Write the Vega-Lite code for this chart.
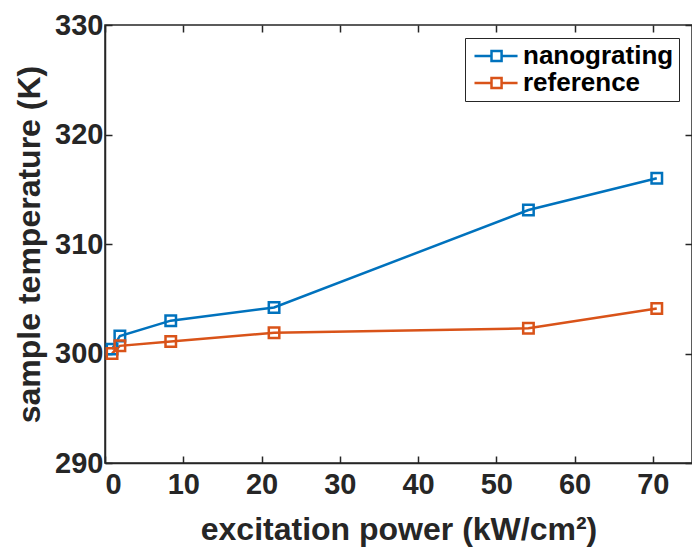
{
  "$schema": "https://vega.github.io/schema/vega-lite/v6.json",
  "width": 587,
  "height": 438,
  "autosize": {"type": "none"},
  "padding": {"left": 105, "top": 25, "right": 0, "bottom": 87},
  "background": "white",
  "config": {
    "font": "Liberation Sans",
    "view": {"stroke": "#262626", "strokeWidth": 1.5},
    "axis": {
      "grid": false,
      "domainColor": "#262626",
      "domainWidth": 1.5,
      "tickColor": "#262626",
      "tickWidth": 1.5,
      "tickSize": -7,
      "labelFont": "Liberation Sans",
      "labelFontWeight": "bold",
      "labelFontSize": 29,
      "labelColor": "#262626",
      "titleFont": "Liberation Sans",
      "titleFontWeight": "bold",
      "titleFontSize": 32,
      "titleColor": "#262626"
    }
  },
  "data": {
    "values": [
      {"power": 0.9, "temp": 300.4, "sample": "nanograting"},
      {"power": 1.9, "temp": 301.6, "sample": "nanograting"},
      {"power": 8.4, "temp": 303.0, "sample": "nanograting"},
      {"power": 21.6, "temp": 304.2, "sample": "nanograting"},
      {"power": 54.1, "temp": 313.1, "sample": "nanograting"},
      {"power": 70.5, "temp": 316.0, "sample": "nanograting"},
      {"power": 0.9, "temp": 300.0, "sample": "reference"},
      {"power": 1.9, "temp": 300.7, "sample": "reference"},
      {"power": 8.4, "temp": 301.1, "sample": "reference"},
      {"power": 21.6, "temp": 301.9, "sample": "reference"},
      {"power": 54.1, "temp": 302.3, "sample": "reference"},
      {"power": 70.5, "temp": 304.1, "sample": "reference"}
    ]
  },
  "encoding": {
    "x": {"field": "power", "type": "quantitative", "scale": {"domain": [0, 75], "nice": false, "zero": false}},
    "y": {"field": "temp", "type": "quantitative", "scale": {"domain": [290, 330], "nice": false, "zero": false}},
    "color": {
      "field": "sample",
      "type": "nominal",
      "scale": {"domain": ["nanograting", "reference"], "range": ["#0072BD", "#D95319"]},
      "legend": {
        "orient": "none",
        "legendX": 360,
        "legendY": 13,
        "title": null,
        "symbolType": "M-0.81,0H0.81M1.77,0H3.29M0.81,-0.48H1.77V0.48H0.81Z",
        "symbolSize": 441,
        "symbolStrokeWidth": 2.5,
        "symbolFillColor": "transparent",
        "labelFont": "Liberation Sans",
        "labelFontWeight": "bold",
        "labelFontSize": 26,
        "labelColor": "#000000",
        "labelLimit": 300,
        "labelOffset": 27,
        "rowPadding": 1,
        "padding": 5,
        "strokeColor": "#262626",
        "fillColor": "white"
      }
    }
  },
  "layer": [
    {
      "mark": {"type": "line", "strokeWidth": 2.5},
      "encoding": {
        "x": {"field": "power", "type": "quantitative", "axis": {"orient": "bottom", "values": [0, 10, 20, 30, 40, 50, 60, 70], "title": "excitation power (kW/cm²)", "labelPadding": 14, "titlePadding": 15}},
        "y": {"field": "temp", "type": "quantitative", "axis": {"orient": "left", "values": [290, 300, 310, 320, 330], "title": "sample temperature (K)", "labelPadding": 9, "titlePadding": 8}}
      }
    },
    {
      "mark": {"type": "point", "shape": "square", "filled": false, "size": 110, "strokeWidth": 2.5, "opacity": 1},
      "encoding": {
        "x": {"field": "power", "type": "quantitative", "axis": {"orient": "top", "values": [0, 10, 20, 30, 40, 50, 60, 70], "labels": false, "title": null, "domain": false}},
        "y": {"field": "temp", "type": "quantitative", "axis": {"orient": "right", "values": [290, 300, 310, 320, 330], "labels": false, "title": null, "domain": false}}
      }
    }
  ],
  "resolve": {"axis": {"x": "independent", "y": "independent"}}
}
